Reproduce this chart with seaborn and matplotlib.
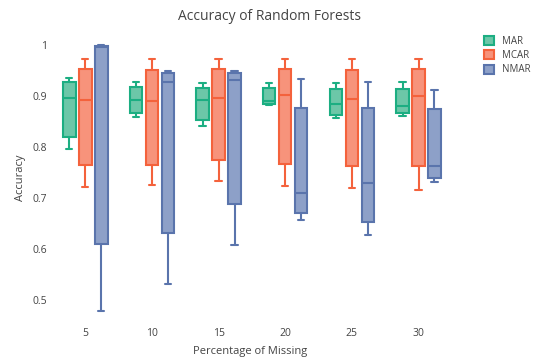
import numpy as np
import pandas as pd
import seaborn as sns
import matplotlib.pyplot as plt
from matplotlib.patches import Patch

# valores: [mín, q1, mediana, q3, máx] por caixa
missing = ['5', '10', '15', '20', '25', '30']
mechanisms = ['MAR', 'MCAR', 'NMAR']

mar = [
    [0.796, 0.820, 0.896, 0.926, 0.935],
    [0.858, 0.866, 0.892, 0.918, 0.927],
    [0.841, 0.853, 0.891, 0.916, 0.925],
    [0.881, 0.883, 0.890, 0.915, 0.924],
    [0.856, 0.863, 0.884, 0.914, 0.924],
    [0.861, 0.866, 0.880, 0.914, 0.926],
]
mcar = [
    [0.722, 0.764, 0.892, 0.952, 0.972],
    [0.725, 0.765, 0.889, 0.951, 0.972],
    [0.734, 0.774, 0.895, 0.952, 0.971],
    [0.723, 0.767, 0.901, 0.953, 0.971],
    [0.719, 0.762, 0.893, 0.951, 0.971],
    [0.716, 0.763, 0.900, 0.952, 0.971],
]
nmar = [
    [0.479, 0.609, 0.995, 0.998, 1.000],
    [0.532, 0.632, 0.926, 0.944, 0.948],
    [0.608, 0.689, 0.930, 0.945, 0.949],
    [0.656, 0.670, 0.709, 0.877, 0.933],
    [0.628, 0.653, 0.730, 0.877, 0.926],
    [0.731, 0.739, 0.763, 0.874, 0.911],
]

line_colors = {'MAR': '#1cae82', 'MCAR': '#f4623c', 'NMAR': '#5a74ac'}
fill_colors = {'MAR': '#6cc7a8', 'MCAR': '#f7937b', 'NMAR': '#8da0c8'}

rows = []
for mech, series in zip(mechanisms, [mar, mcar, nmar]):
    for pct, vals in zip(missing, series):
        for v in vals:
            rows.append({'Percentage of Missing': pct, 'Accuracy': v, 'Missing': mech})
df = pd.DataFrame(rows)

sns.set_style('white')
plt.rcParams['font.family'] = ['Open Sans', 'DejaVu Sans']

fig = plt.figure(figsize=(5.4, 3.59), dpi=100)
ax = fig.add_axes([0.0926, 0.114, 0.7404, 0.783])

sns.boxplot(data=df, x='Percentage of Missing', y='Accuracy', hue='Missing',
            order=missing, hue_order=mechanisms, palette=fill_colors, saturation=1,
            width=0.72, gap=0.22, whis=np.inf, linewidth=1.5,
            legend=False, ax=ax)

# cor das linhas igual à cor de cada série (estilo plotly)
for cont, mech in zip(ax.containers, mechanisms):
    lc = line_colors[mech]
    for b in cont.boxes:
        b.set_edgecolor(lc)
    for ln in list(cont.medians) + list(cont.whiskers) + list(cont.caps):
        ln.set_color(lc)
        ln.set_linewidth(1.5)

ax.set_xlim(-0.53, 5.47)
ax.set_ylim(0.465, 1.015)
ax.set_yticks([0.5, 0.6, 0.7, 0.8, 0.9, 1.0])
ax.set_yticklabels(['0.5', '0.6', '0.7', '0.8', '0.9', '1'])
ax.tick_params(axis='x', labelsize=7.5, colors='#444444', length=0, pad=7)
ax.tick_params(axis='y', labelsize=7.5, colors='#444444', length=0, pad=2)
for s in ax.spines.values():
    s.set_visible(False)
ax.set_xlabel('Percentage of Missing', fontsize=8, color='#444444', labelpad=5)
ax.set_ylabel('Accuracy', fontsize=8, color='#444444', labelpad=5)

fig.suptitle('Accuracy of Random Forests', x=0.5, y=0.975, fontsize=10, color='#444444')

handles = [Patch(facecolor=fill_colors[m], edgecolor=line_colors[m], linewidth=1.5, label=m)
           for m in mechanisms]
fig.legend(handles=handles, loc='upper left', bbox_to_anchor=(0.88, 0.925), frameon=False,
           fontsize=7, handlelength=1.0, handleheight=1.0, handletextpad=0.9,
           labelspacing=0.35, labelcolor='#444444')

fig.savefig('out.png', dpi=100)
